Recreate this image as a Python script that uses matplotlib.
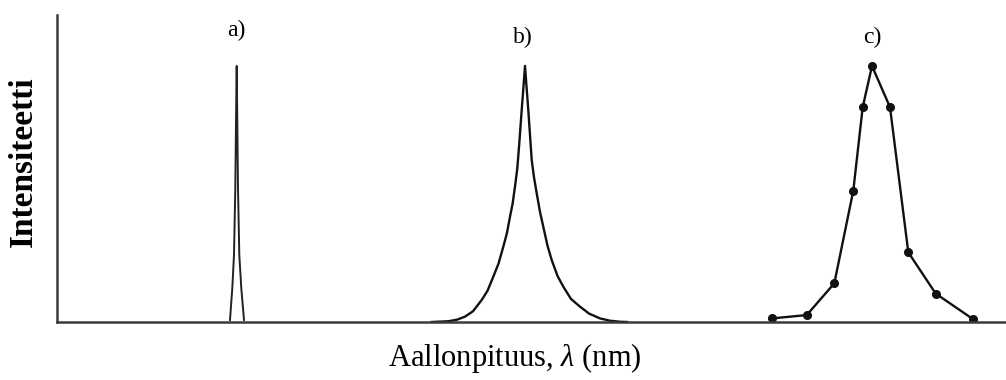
import matplotlib.pyplot as plt

plt.rcParams['font.family'] = ['Liberation Serif', 'DejaVu Serif']
plt.rcParams['mathtext.fontset'] = 'custom'
plt.rcParams['mathtext.rm'] = 'Liberation Serif'
plt.rcParams['mathtext.it'] = 'Liberation Serif:italic'

# peak a) - very narrow line
xa = [173, 175.3, 177, 178.3, 179, 179.7, 180.3, 181, 182.3, 184.3, 187]
ya = [0.008, 0.132, 0.262, 0.522, 0.782, 1.0, 0.782, 0.522, 0.262, 0.132, 0.008]

# peak b) - broadened line
xb = [374.7, 391.3, 400, 408, 416, 424.7, 430.5, 436.3, 441.5, 446.3, 449.8, 453,
      455.6, 458, 460.3, 462.3, 464.7, 466.5, 468,
      469.5, 471.3, 474.7, 477, 479.7, 483, 486.3, 490.5, 494.7, 500.5, 506.3,
      514, 523, 532, 543, 553, 563, 570]
yb = [0.0, 0.003, 0.009, 0.021, 0.042, 0.086, 0.122, 0.177, 0.228, 0.294, 0.345, 0.411,
      0.462, 0.529, 0.600, 0.698, 0.828, 0.92, 1.0,
      0.92, 0.828, 0.633, 0.565, 0.503, 0.430, 0.372, 0.298, 0.242, 0.180, 0.138,
      0.090, 0.060, 0.033, 0.014, 0.005, 0.001, 0.0]

# peak c) - measured points
xc = [714.7, 749.7, 777.3, 796.3, 805.7, 815, 833, 851.3, 878.7, 915.7]
yc = [0.014, 0.027, 0.151, 0.513, 0.839, 1.0, 0.839, 0.272, 0.111, 0.012]

labels = ['a)', 'b)', 'c)']
label_x = [179, 466, 815]
label_y = [1.14, 1.11, 1.11]

fig = plt.figure(figsize=(10.06, 3.8), dpi=100)
ax = fig.add_axes([57/1006, 58/380, 949/1006, 307/380])

ax.plot(xa, ya, color='#222222', lw=1.4)
ax.plot(xb, yb, color='#111111', lw=1.7)
ax.plot(xc, yc, color='#111111', lw=1.7, marker='o', ms=5.5)

for t, x, y in zip(labels, label_x, label_y):
    ax.text(x, y, t, ha='center', va='center', fontsize=17)

ax.set_xlim(0, 949)
ax.set_ylim(0, 1.199)
ax.set_xticks([])
ax.set_yticks([])
for s in ['top', 'right']:
    ax.spines[s].set_visible(False)
for s in ['left', 'bottom']:
    ax.spines[s].set_color('#3a3a3a')
    ax.spines[s].set_linewidth(1.8)
ax.patch.set_visible(False)

fig.text(515/1006, 1-358/380, 'Aallonpituus, $\\lambda$ (nm)', ha='center', va='center', fontsize=22)
fig.text(23/1006, 1-162/380, 'Intensiteetti', ha='center', va='center', rotation=90,
         fontsize=24, fontweight='bold')

fig.savefig('out.png', dpi=100)
